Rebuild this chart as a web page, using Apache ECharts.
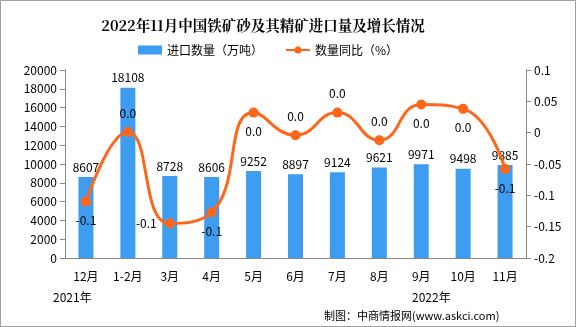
<!DOCTYPE html>
<html><head><meta charset="utf-8">
<script src="https://cdn.jsdelivr.net/npm/echarts@6/dist/echarts.min.js"></script>
<style>html,body{margin:0;padding:0;background:#fff}#c{width:576px;height:327px;box-sizing:border-box;border:1px solid #a0a0a0}</style>
</head><body><div id="c"></div>
<script>
var categories = ['12月','1-2月','3月','4月','5月','6月','7月','8月','9月','10月','11月'];
var importVolume = [8607,18108,8728,8606,9252,8897,9124,9621,9971,9498,9885];
var yoyGrowth = [-0.110,0.001,-0.145,-0.127,0.032,-0.004,0.032,-0.012,0.045,0.038,-0.058];
var yoyLabelPos = ['bottom','top','left','bottom','bottom','top','top','top','bottom','bottom','bottom'];
var leftTicks = {min:0,max:20000,interval:2000};
var rightTicks = {min:-0.2,max:0.1,interval:0.05};

var font = '"Noto Sans CJK SC", "DejaVu Sans", sans-serif';
var chart = echarts.init(document.getElementById('c'));
chart.setOption({
  animation:false,
  textStyle:{fontFamily:font},
  title:{text:'2022年11月中国铁矿砂及其精矿进口量及增长情况',left:257,textAlign:'center',top:12,
    textStyle:{fontSize:14.5,fontWeight:'bold',color:'#000',fontFamily:'"Noto Serif CJK SC", "Noto Sans CJK SC", serif'}},
  legend:{top:38,left:132,itemGap:22,itemWidth:24,itemHeight:9,
    textStyle:{fontSize:12,color:'#000'},
    data:[{name:'进口数量（万吨）',icon:'rect'},{name:'数量同比（%）'}]},
  grid:{left:64,right:49,top:69,bottom:68},
  xAxis:{type:'category',data:categories,
    axisLine:{lineStyle:{color:'#888'}},
    axisTick:{alignWithLabel:false,length:5,lineStyle:{color:'#888'}},
    axisLabel:{color:'#000',fontSize:12,margin:12}},
  yAxis:[
    {type:'value',min:leftTicks.min,max:leftTicks.max,interval:leftTicks.interval,
     axisLine:{show:true,lineStyle:{color:'#888'}},axisTick:{show:true,length:5,lineStyle:{color:'#888'}},
     splitLine:{show:false},axisLabel:{color:'#000',fontSize:12,margin:8,
       formatter:function(v){return String(v);}}},
    {type:'value',min:rightTicks.min,max:rightTicks.max,interval:rightTicks.interval,
     axisLine:{show:true,lineStyle:{color:'#888'}},axisTick:{show:true,length:5,lineStyle:{color:'#888'}},
     splitLine:{show:false},axisLabel:{color:'#000',fontSize:12,margin:8,
       formatter:function(v){return String(Math.round(v*100)/100);}}}
  ],
  series:[
    {name:'进口数量（万吨）',type:'bar',barWidth:15,data:importVolume,
     itemStyle:{color:'#3E9DF0'},
     label:{show:true,position:'top',color:'#000',fontSize:12,distance:4}},
    {name:'数量同比（%）',type:'line',yAxisIndex:1,smooth:0.5,symbol:'circle',symbolSize:10,
     lineStyle:{color:'#FF6619',width:3},itemStyle:{color:'#FF6619'},
     data:yoyGrowth.map(function(v,i){return {value:v,label:{position:yoyLabelPos[i]}};}),
     label:{show:true,color:'#000',fontSize:12,distance:8,
       formatter:function(p){var s=p.value.toFixed(1);return s==='-0.0'?'0.0':s;}}}
  ],
  graphic:[
    {type:'text',left:52,top:290,style:{text:'2021年',fontSize:12,fill:'#000',fontFamily:font}},
    {type:'text',left:411,top:290,style:{text:'2022年',fontSize:12,fill:'#000',fontFamily:font}},
    {type:'text',left:323,top:309,style:{text:'制图：中商情报网(www.askci.com)',fontSize:11,fill:'#000',fontFamily:font}}
  ]
});
</script></body></html>
